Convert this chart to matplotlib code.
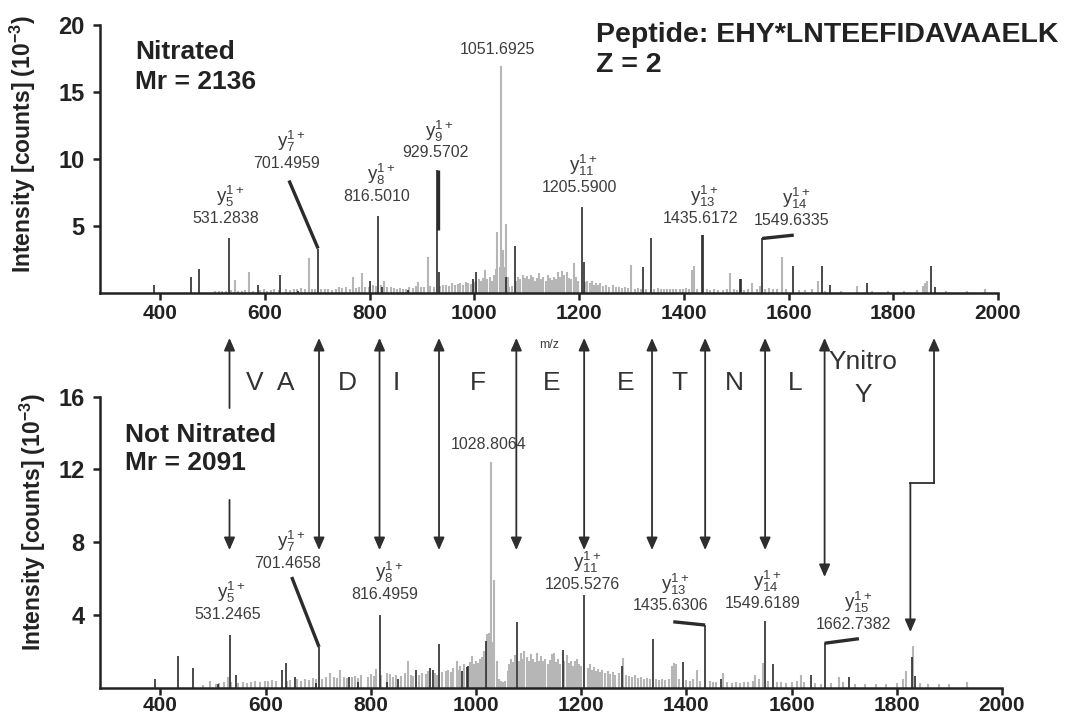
import matplotlib
matplotlib.use('Agg')
import matplotlib.pyplot as plt
from matplotlib.transforms import blended_transform_factory

plt.rcParams['font.family'] = ['Liberation Sans', 'DejaVu Sans']
plt.rcParams['mathtext.fontset'] = 'custom'
plt.rcParams['mathtext.rm'] = 'Liberation Sans'
plt.rcParams['mathtext.it'] = 'Liberation Sans:italic'
plt.rcParams['mathtext.bf'] = 'Liberation Sans:bold'
plt.rcParams['mathtext.default'] = 'regular'

# ---------------- nitrated spectrum (top) ----------------
top_gray_mz = [505, 512, 518, 525, 536, 542, 548, 556, 562, 570, 577, 590, 598, 604, 612, 618, 626, 640, 648, 655,
               662, 668, 676, 684, 690, 696, 708, 714, 720, 728, 735, 742, 748, 755, 762, 768, 774, 780, 786, 792,
               798, 806, 812, 822, 828, 834, 840, 846, 852, 858, 864, 870, 876, 882, 888, 893, 898, 904, 911, 916,
               922, 935, 940, 946, 952, 958, 963, 968, 972, 978, 984, 988, 993, 1000, 1004, 1009, 1013, 1017, 1021, 1025,
               1029, 1033, 1037, 1041, 1044, 1048, 1051.7, 1055, 1058, 1061, 1064, 1067, 1071, 1080, 1084, 1088, 1092, 1096, 1100, 1104,
               1108, 1112, 1116, 1120, 1124, 1128, 1132, 1136, 1140, 1144, 1148, 1152, 1156, 1160, 1164, 1168, 1172, 1176, 1180, 1184,
               1190, 1194, 1198, 1212, 1216, 1220, 1224, 1228, 1232, 1236, 1240, 1246, 1252, 1258, 1264, 1270, 1276, 1282, 1288, 1294,
               1300, 1306, 1312, 1318, 1328, 1344, 1350, 1356, 1362, 1368, 1374, 1380, 1386, 1392, 1398, 1404, 1410, 1415, 1420, 1426,
               1444, 1450, 1458, 1466, 1474, 1482, 1488, 1495, 1502, 1515, 1522, 1531, 1540, 1545, 1556, 1562, 1570, 1578, 1588, 1596,
               1620, 1632, 1645, 1657, 1670, 1700, 1730, 1760, 1790, 1820, 1845, 1856, 1860, 1865, 1900, 1940, 1975]
top_gray_h = [0.12, 0.1, 0.15, 0.12, 0.2, 0.95, 0.15, 0.12, 0.2, 1.55, 0.15, 0.18, 0.25, 0.15, 0.2, 0.3, 0.18, 0.25, 0.2, 0.3,
              0.25, 0.35, 0.3, 2.6, 0.3, 0.25, 0.3, 0.25, 0.3, 0.2, 0.3, 0.4, 0.35, 0.45, 0.3, 1.2, 0.35, 0.4, 1.45, 0.45,
              0.4, 0.6, 0.5, 0.55, 0.85, 0.45, 0.4, 0.35, 0.3, 0.35, 0.3, 0.3, 0.4, 0.35, 0.5, 0.8, 0.45, 0.4, 2.7, 0.5,
              0.45, 0.5, 0.55, 0.6, 0.5, 0.7, 0.55, 0.65, 0.75, 0.6, 0.8, 0.7, 0.65, 0.8, 0.9, 1.0, 0.85, 1.1, 1.7, 1.0,
              1.2, 0.9, 1.3, 1.8, 4.5, 1.9, 16.9, 3.2, 1.9, 5.1, 1.2, 0.4, 0.5, 0.9, 1.2, 1.0, 1.3, 1.1, 1.25, 1.0,
              1.3, 1.2, 0.9, 1.1, 1.45, 1.0, 1.2, 0.9, 1.35, 1.1, 0.95, 1.2, 1.05, 1.55, 1.2, 1.6, 1.3, 1.55, 1.1, 1.0,
              2.2, 1.2, 0.9, 0.8, 0.9, 0.7, 0.85, 0.6, 0.75, 0.55, 0.7, 0.5, 0.6, 0.45, 0.55, 0.4, 0.45, 0.35, 0.4, 0.35,
              2.1, 0.3, 0.35, 0.3, 0.3, 0.3, 0.35, 0.25, 0.3, 0.3, 0.25, 0.3, 0.25, 0.3, 0.25, 0.35, 0.3, 1.7, 2.0, 0.3,
              0.25, 0.2, 0.25, 0.2, 0.2, 0.25, 1.5, 0.3, 0.2, 0.2, 0.25, 0.75, 0.3, 0.5, 0.3, 0.35, 0.3, 0.25, 2.7, 0.25,
              0.2, 0.2, 0.3, 0.9, 0.15, 0.15, 0.5, 0.15, 0.15, 0.15, 0.2, 0.5, 0.75, 0.9, 0.1, 0.1, 0.3]
top_black_mz = [388, 459, 474, 531.28, 587, 629, 664, 701.50, 800, 816.50, 824, 873, 929.57, 933, 998, 1004,
                1060, 1077, 1205.59, 1209, 1322, 1337, 1435.62, 1437.5, 1507, 1509, 1549.63, 1608, 1664, 1679,
                1750, 1872, 1880]
top_black_h = [0.55, 1.2, 1.75, 4.08, 0.6, 1.3, 0.15, 3.3, 0.9, 5.75, 0.4, 0.2, 9.2, 1.55, 1.0, 1.55,
               1.2, 3.5, 6.4, 2.3, 1.95, 4.1, 4.3, 4.3, 1.0, 1.0, 4.05, 2.0, 2.0, 0.55,
               0.75, 2.0, 0.45]
top_lbl_ion = ['5', '7', '8', '9', None, '11', '13', '14']
top_lbl_text = ['531.2838', '701.4959', '816.5010', '929.5702', '1051.6925', '1205.5900', '1435.6172', '1549.6335']
top_lbl_x = [526, 642, 814, 925, 1045, 1200, 1431, 1606]
top_lbl_y = [5.23, 9.35, 6.85, 10.1, 17.8, 7.55, 5.23, 5.05]
top_leaders = [((646, 701.5), (8.38, 3.3)), ((929.6, 929.6), (4.7, 9.2)), ((1549.6, 1610), (4.05, 4.3))]

# ---------------- not nitrated spectrum (bottom) ----------------
bot_gray_mz = [480, 495, 505, 512, 520, 528, 535, 548, 556, 565, 572, 580, 590, 598, 605, 612, 620, 640, 646, 660,
               668, 675, 682, 690, 695, 708, 714, 723, 730, 736, 742, 748, 754, 765, 770, 776, 782, 795, 800, 806,
               810, 820, 830, 836, 842, 848, 858, 864, 870, 876, 880, 892, 898, 904, 908, 922, 926, 936, 942, 947,
               952, 957, 963, 967, 970, 978, 988, 992, 996, 1000, 1004, 1008, 1012, 1016, 1020, 1024, 1028.8, 1032, 1035, 1039,
               1043, 1047, 1051, 1056, 1060, 1063, 1067, 1071, 1075, 1081, 1085, 1089, 1092, 1096, 1100, 1104, 1108, 1112, 1116, 1120,
               1124, 1128, 1132, 1136, 1140, 1144, 1148, 1152, 1156, 1160, 1168, 1172, 1176, 1180, 1184, 1188, 1192, 1196, 1200, 1212,
               1216, 1220, 1224, 1228, 1232, 1236, 1240, 1245, 1250, 1255, 1260, 1265, 1272, 1280, 1285, 1290, 1296, 1302, 1308, 1314,
               1320, 1326, 1331, 1342, 1348, 1354, 1360, 1366, 1372, 1376, 1380, 1386, 1400, 1406, 1412, 1420, 1426, 1444, 1450, 1456,
               1470, 1478, 1486, 1494, 1502, 1510, 1518, 1526, 1531, 1538, 1545, 1556, 1572, 1580, 1590, 1600, 1610, 1617, 1624, 1645,
               1655, 1675, 1690, 1697, 1720, 1740, 1760, 1780, 1800, 1812, 1818, 1830, 1845, 1860, 1880, 1900, 1933]
bot_gray_h = [0.15, 0.35, 0.2, 0.25, 0.3, 0.6, 0.3, 0.25, 0.3, 0.25, 0.3, 0.35, 0.3, 0.4, 0.35, 0.45, 0.4, 0.35, 0.45, 0.5,
              0.4, 0.5, 0.45, 0.55, 0.5, 0.5, 0.6, 0.8, 0.6, 0.55, 1.0, 0.6, 0.55, 0.6, 0.65, 0.55, 0.7, 0.6, 0.75, 0.65,
              1.05, 0.7, 0.8, 0.75, 0.6, 0.7, 0.65, 0.8, 1.5, 0.7, 0.65, 0.7, 0.8, 0.75, 0.9, 0.8, 0.7, 0.85, 0.9, 1.0,
              0.85, 1.1, 1.45, 1.0, 1.2, 1.3, 1.4, 1.75, 1.3, 1.5, 1.35, 1.6, 1.7, 2.0, 2.95, 3.0, 12.4, 2.5, 5.9, 1.5,
              0.5, 0.35, 0.3, 0.4, 0.9, 1.3, 1.6, 1.4, 1.8, 1.5, 1.9, 1.6, 2.05, 1.7, 1.5, 1.85, 1.6, 1.4, 1.9, 1.5,
              1.75, 1.45, 1.6, 1.3, 1.55, 1.85, 1.9, 1.4, 1.6, 1.3, 1.5, 1.8, 1.35, 1.5, 1.2, 1.45, 1.6, 1.3, 1.2, 1.1,
              1.3, 1.0, 1.15, 0.9, 1.05, 0.85, 1.0, 0.8, 0.9, 0.75, 0.85, 0.7, 0.8, 1.65, 0.7, 0.65, 0.6, 0.7, 0.55, 0.6,
              0.5, 0.55, 0.5, 0.5, 0.45, 0.5, 0.45, 0.5, 1.2, 1.35, 1.3, 0.5, 0.45, 0.4, 0.5, 1.0, 0.4, 0.35, 0.3, 0.3,
              0.8, 0.3, 0.25, 0.3, 0.25, 0.3, 0.3, 0.4, 0.7, 0.5, 1.35, 0.4, 0.3, 0.3, 0.25, 0.3, 0.35, 0.7, 0.3, 0.25,
              0.2, 0.25, 0.6, 0.3, 0.2, 0.2, 0.2, 0.2, 0.25, 0.5, 0.9, 2.3, 0.25, 0.2, 0.2, 0.2, 0.3]
bot_black_mz = [389, 433, 461, 510, 531.25, 543, 631, 639, 656, 695, 701.47, 759, 776, 816.50, 830, 852, 886,
                913, 918, 929.6, 973, 982, 984, 1018, 1077, 1165, 1205.53, 1278, 1337, 1393, 1435.63, 1465,
                1549.62, 1565, 1637, 1662.74, 1709, 1828, 1835]
bot_black_h = [0.5, 1.75, 1.1, 0.2, 2.9, 0.7, 1.0, 1.35, 0.6, 0.25, 2.25, 0.6, 0.3, 4.0, 0.3, 0.5, 1.0,
               1.1, 1.0, 2.4, 0.95, 1.15, 1.2, 2.6, 3.6, 2.1, 5.1, 1.2, 2.7, 1.4, 3.45, 0.5,
               3.7, 1.3, 0.7, 2.45, 0.6, 1.7, 0.65]
bot_lbl_ion = ['5', '7', '8', None, '11', '13', '14', '15']
bot_lbl_text = ['531.2465', '701.4658', '816.4959', '1028.8064', '1205.5276', '1435.6306', '1549.6189', '1662.7382']
bot_lbl_x = [527, 641, 826, 1024, 1203, 1370, 1545, 1718]
bot_lbl_y = [3.8, 6.6, 4.9, 13.1, 5.45, 4.25, 4.4, 3.26]
bot_leaders = [((649.5, 701.5), (6.09, 2.25)), ((1375, 1435.6), (3.63, 3.45)), ((1662.7, 1728), (2.45, 2.7))]

# ---------------- y-ion ladder between the panels ----------------
ladder_mz = [701.47, 816.50, 929.6, 1076.6, 1205.53, 1334.6, 1435.63, 1549.62]
ladder_y5 = 531.25
ladder_y15 = 1662.74
ladder_y16_nitro = 1870.8
ladder_y16 = 1825.8
residues = ['V  A', 'D', 'I', 'F', 'E', 'E', 'T', 'N', 'L']
residue_x = [609, 756, 849, 1003, 1144, 1285, 1386, 1492, 1606]
ynitro_x = 1736

BLACK = '#2b2b2b'
GRAY = '#b6b6b6'
LBL = '#3d3d3d'

fig = plt.figure(figsize=(10.81, 7.2), dpi=100)
ax1 = fig.add_axes([0.0925, 0.5935, 0.8307, 0.3718])
ax2 = fig.add_axes([0.0925, 0.0447, 0.8344, 0.4043])


def draw_spectrum(ax, gmz, gh, bmz, bh, lion, ltxt, lx, ly, leaders):
    ax.vlines(gmz, 0, gh, colors=GRAY, lw=1.5, zorder=1)
    ax.vlines(bmz, 0, bh, colors=BLACK, lw=1.2, zorder=2)
    for (xs, ys) in leaders:
        ax.plot(xs, ys, color=BLACK, lw=2.4, solid_capstyle='butt', zorder=3)
    for ion, t, x, y in zip(lion, ltxt, lx, ly):
        ax.text(x, y, t, ha='center', va='baseline', fontsize=11.5, color=LBL)
        if ion:
            ax.annotate(r'$y_{%s}^{1+}$' % ion, xy=(x, y), xytext=(3, 15),
                        textcoords='offset points', ha='center', va='baseline',
                        fontsize=13.5, color=LBL)
    ax.set_xlim(285, 2000)
    for s in ['top', 'right']:
        ax.spines[s].set_visible(False)
    for s in ['left', 'bottom']:
        ax.spines[s].set_linewidth(1.8)
        ax.spines[s].set_color('#222222')
    ax.set_xticks(range(400, 2001, 200))
    ax.tick_params(axis='both', direction='out', length=5, width=1.8, color='#222222')
    ax.tick_params(axis='x', labelsize=15, pad=3)
    ax.tick_params(axis='y', labelsize=17, pad=6)
    for lab in ax.get_xticklabels() + ax.get_yticklabels():
        lab.set_fontweight('bold')
        lab.set_color('#222222')
    ax.patch.set_visible(False)


draw_spectrum(ax1, top_gray_mz, top_gray_h, top_black_mz, top_black_h,
              top_lbl_ion, top_lbl_text, top_lbl_x, top_lbl_y, top_leaders)
ax1.set_ylim(0, 20)
ax1.set_yticks([5, 10, 15, 20])
for lab in ax1.get_yticklabels():
    lab.set_fontweight('bold')
ax1.set_xlabel('m/z', fontsize=9, color=LBL, labelpad=12)

draw_spectrum(ax2, bot_gray_mz, bot_gray_h, bot_black_mz, bot_black_h,
              bot_lbl_ion, bot_lbl_text, bot_lbl_x, bot_lbl_y, bot_leaders)
ax2.set_ylim(0, 16)
ax2.set_yticks([4, 8, 12, 16])
ax2.tick_params(axis='x', pad=1)
for lab in ax2.get_yticklabels():
    lab.set_fontweight('bold')

# y labels
fig.text(0.021, 0.80, r'Intensity [counts] (10$^{-3}$)', rotation=90, ha='center', va='center',
         fontsize=16.5, fontweight='bold', color='#222222')
fig.text(0.030, 0.275, r'Intensity [counts] (10$^{-3}$)', rotation=90, ha='center', va='center',
         fontsize=16.5, fontweight='bold', color='#222222')

# panel annotations
fig.text(0.125, 0.944, 'Nitrated\nMr = 2136', ha='left', va='top', fontsize=19,
         fontweight='bold', color='#222222', linespacing=1.3)
fig.text(0.551, 0.970, 'Peptide: EHY*LNTEEFIDAVAAELK\nZ = 2', ha='left', va='top', fontsize=20.5,
         fontweight='bold', color='#222222', linespacing=1.2)
fig.text(0.116, 0.4125, 'Not Nitrated\nMr = 2091', ha='left', va='top', fontsize=19,
         fontweight='bold', color='#222222', linespacing=1.2)

# ladder arrows (x in m/z of bottom axis, y in figure fraction)
tr = blended_transform_factory(ax2.transData, fig.transFigure)
Y_TOP, Y_BOT = 0.5306, 0.236
arrow_kw = dict(arrowstyle='-|>,head_length=0.5,head_width=0.22', color='#2e2e2e', lw=1.3,
                shrinkA=0, shrinkB=0, mutation_scale=15)
both_kw = dict(arrow_kw, arrowstyle='<|-|>,head_length=0.5,head_width=0.22')


def arrow(x0, y0, x1, y1, kw):
    ax2.annotate('', xy=(x1, y1), xytext=(x0, y0), xycoords=tr, textcoords=tr,
                 arrowprops=kw, annotation_clip=False)


for m in ladder_mz:
    arrow(m, Y_TOP, m, Y_BOT, both_kw)
arrow(ladder_y5, 0.4333, ladder_y5, Y_TOP, arrow_kw)
arrow(ladder_y5, 0.3056, ladder_y5, Y_BOT, arrow_kw)
arrow(ladder_y15, Y_TOP, ladder_y15, 0.1986, both_kw)
arrow(ladder_y16_nitro, 0.329, ladder_y16_nitro, Y_TOP, arrow_kw)
ax2.plot([ladder_y16_nitro, ladder_y16], [0.329, 0.329], transform=tr, color='#2e2e2e',
         lw=1.3, clip_on=False)
arrow(ladder_y16, 0.329, ladder_y16, 0.1222, arrow_kw)

for r, x in zip(residues, residue_x):
    ax2.text(x, 0.468, r, transform=tr, ha='center', va='center', fontsize=19, color='#333333')
ax2.text(ynitro_x, 0.497, 'Ynitro', transform=tr, ha='center', va='center', fontsize=19, color='#333333')
ax2.text(ynitro_x, 0.451, 'Y', transform=tr, ha='center', va='center', fontsize=19, color='#333333')

fig.savefig('out.png', dpi=100, facecolor='white')
